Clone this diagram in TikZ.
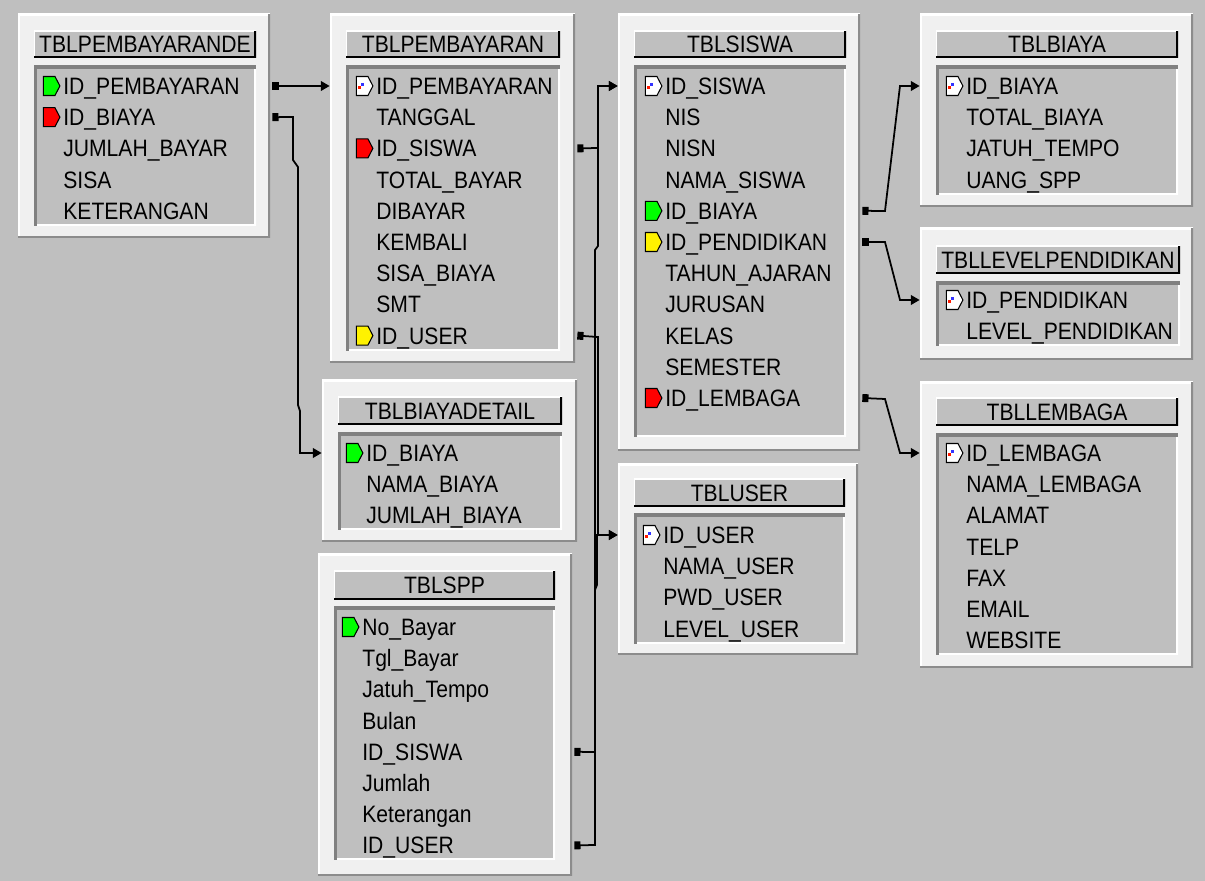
\documentclass[tikz,border=0pt]{standalone}
\usepackage{fontspec}
\setmainfont{Liberation Sans}[FakeStretch=0.89]
\usetikzlibrary{positioning,fit,shapes.symbols,arrows.meta}

\begin{document}
\begin{tikzpicture}[x=0.02cm, y=-0.02cm,
	bingkai/.style={inner sep=0pt, fill=black!6, path picture={
		\draw[white, line width=2pt] (path picture bounding box.south west) -- (path picture bounding box.north west) -- (path picture bounding box.north east);
		\draw[black!45, line width=2.6pt] (path picture bounding box.north east) -- (path picture bounding box.south east) -- (path picture bounding box.south west);}},
	judul/.style={inner sep=0pt, fill=black!25, path picture={
		\draw[white, line width=1.6pt] (path picture bounding box.south west) -- (path picture bounding box.north west) -- (path picture bounding box.north east);
		\draw[black, line width=2.2pt] (path picture bounding box.north east) -- (path picture bounding box.south east) -- (path picture bounding box.south west);}},
	isi/.style={inner sep=0pt, fill=black!25, path picture={
		\draw[white, line width=2pt] (path picture bounding box.north east) -- (path picture bounding box.south east) -- (path picture bounding box.south west);
		\draw[black!50, line width=3pt] (path picture bounding box.south west) -- (path picture bounding box.north west) -- (path picture bounding box.north east);}},
	kolom/.style={anchor=west, inner sep=0pt, text height=9.6pt, text depth=0pt, font=\fontsize{13.5}{16}\selectfont},
	namatabel/.style={kolom, anchor=center},
	kunci/.style={signal, signal to=east, signal pointer angle=125, draw=black, line width=0.6pt, fill=#1, minimum width=0.33cm, minimum height=0.38cm, inner sep=0pt},
	pk/.style={kunci=white, path picture={
		\fill[red!80!orange] ([xshift=0.9pt]path picture bounding box.west) rectangle ++(1.8pt,-1.8pt);
		\fill[blue!80] ([xshift=2.7pt]path picture bounding box.west) rectangle ++(1.6pt,1.6pt);}},
	hub/.style={line width=1pt, {Square[length=3.5pt,width=4.5pt]}-{Triangle[length=5pt,width=5.5pt]}},
	]

	\fill[black!25] (0,0) rectangle (1205,881);
	\useasboundingbox (0,0) rectangle (1205,881);

	%TBLPEMBAYARANDE
	\node[bingkai, fit={(18,14) (270,238)}]	(pbd)	{};
	\node[judul, fit={(34,31) (256,58)}]	(pbd-t)	{};
	\node[namatabel]	(pbd-n)	at (pbd-t)	{TBLPEMBAYARANDE};
	\node[isi, fit={(34,66) (256,226)}]		(pbd-i)	{};
	\foreach \t [count=\i] in {ID\_PEMBAYARAN, ID\_BIAYA, JUMLAH\_BAYAR, SISA, KETERANGAN}
		\node[kolom] (pbd\i) at (63,{86+31.2*(\i-1)}) {\t};
	\node[kunci=green, left=0.05cm of pbd1]	(pbd1k)	{};
	\node[kunci=red, left=0.05cm of pbd2]	(pbd2k)	{};

	%TBLPEMBAYARAN
	\node[bingkai, fit={(330,14) (575,363)}]	(pb)	{};
	\node[judul, fit={(346,31) (560,58)}]		(pb-t)	{};
	\node[namatabel]	(pb-n)	at (pb-t)	{TBLPEMBAYARAN};
	\node[isi, fit={(346,66) (560,351)}]		(pb-i)	{};
	\foreach \t [count=\i] in {ID\_PEMBAYARAN, TANGGAL, ID\_SISWA, TOTAL\_BAYAR, DIBAYAR, KEMBALI, SISA\_BIAYA, SMT, ID\_USER}
		\node[kolom] (pb\i) at (376,{86+31.2*(\i-1)}) {\t};
	\node[pk, left=0.05cm of pb1]			(pb1k)	{};
	\node[kunci=red, left=0.05cm of pb3]	(pb3k)	{};
	\node[kunci=yellow, left=0.05cm of pb9]	(pb9k)	{};

	%TBLSISWA
	\node[bingkai, fit={(618,14) (860,451)}]	(siswa)		{};
	\node[judul, fit={(634,31) (846,58)}]		(siswa-t)	{};
	\node[namatabel]	(siswa-n)	at (siswa-t)	{TBLSISWA};
	\node[isi, fit={(634,66) (846,437)}]		(siswa-i)	{};
	\foreach \t [count=\i] in {ID\_SISWA, NIS, NISN, NAMA\_SISWA, ID\_BIAYA, ID\_PENDIDIKAN, TAHUN\_AJARAN, JURUSAN, KELAS, SEMESTER, ID\_LEMBAGA}
		\node[kolom] (siswa\i) at (665,{86+31.2*(\i-1)}) {\t};
	\node[pk, left=0.05cm of siswa1]			(siswa1k)	{};
	\node[kunci=green, left=0.05cm of siswa5]	(siswa5k)	{};
	\node[kunci=yellow, left=0.05cm of siswa6]	(siswa6k)	{};
	\node[kunci=red, left=0.05cm of siswa11]	(siswa11k)	{};

	%TBLBIAYA
	\node[bingkai, fit={(920,14) (1193,207)}]	(biaya)		{};
	\node[judul, fit={(936,31) (1178,58)}]		(biaya-t)	{};
	\node[namatabel]	(biaya-n)	at (biaya-t)	{TBLBIAYA};
	\node[isi, fit={(936,66) (1178,195)}]		(biaya-i)	{};
	\foreach \t [count=\i] in {ID\_BIAYA, TOTAL\_BIAYA, JATUH\_TEMPO, UANG\_SPP}
		\node[kolom] (biaya\i) at (966,{86+31.2*(\i-1)}) {\t};
	\node[pk, left=0.05cm of biaya1]	(biaya1k)	{};

	%TBLLEVELPENDIDIKAN
	\node[bingkai, fit={(920,228) (1193,360)}]	(level)		{};
	\node[judul, fit={(936,246) (1180,274)}]	(level-t)	{};
	\node[namatabel]	(level-n)	at (level-t)	{TBLLEVELPENDIDIKAN};
	\node[isi, fit={(936,282) (1180,346)}]		(level-i)	{};
	\foreach \t [count=\i] in {ID\_PENDIDIKAN, LEVEL\_PENDIDIKAN}
		\node[kolom] (level\i) at (966,{300+31.2*(\i-1)}) {\t};
	\node[pk, left=0.05cm of level1]	(level1k)	{};

	%TBLLEMBAGA
	\node[bingkai, fit={(920,382) (1193,668)}]	(lembaga)	{};
	\node[judul, fit={(936,398) (1178,426)}]	(lembaga-t)	{};
	\node[namatabel]	(lembaga-n)	at (lembaga-t)	{TBLLEMBAGA};
	\node[isi, fit={(936,434) (1178,655)}]		(lembaga-i)	{};
	\foreach \t [count=\i] in {ID\_LEMBAGA, NAMA\_LEMBAGA, ALAMAT, TELP, FAX, EMAIL, WEBSITE}
		\node[kolom] (lembaga\i) at (966,{453+31.2*(\i-1)}) {\t};
	\node[pk, left=0.05cm of lembaga1]	(lembaga1k)	{};

	%TBLBIAYADETAIL
	\node[bingkai, fit={(322,380) (577,542)}]	(bd)	{};
	\node[judul, fit={(338,397) (562,425)}]		(bd-t)	{};
	\node[namatabel]	(bd-n)	at (bd-t)	{TBLBIAYADETAIL};
	\node[isi, fit={(338,433) (562,530)}]		(bd-i)	{};
	\foreach \t [count=\i] in {ID\_BIAYA, NAMA\_BIAYA, JUMLAH\_BIAYA}
		\node[kolom] (bd\i) at (366,{453+31.2*(\i-1)}) {\t};
	\node[kunci=green, left=0.05cm of bd1]	(bd1k)	{};

	%TBLSPP
	\node[bingkai, fit={(318,554) (572,876)}]	(spp)	{};
	\node[judul, fit={(334,571) (555,600)}]		(spp-t)	{};
	\node[namatabel]	(spp-n)	at (spp-t)	{TBLSPP};
	\node[isi, fit={(334,607) (555,860)}]		(spp-i)	{};
	\foreach \t [count=\i] in {No\_Bayar, Tgl\_Bayar, Jatuh\_Tempo, Bulan, ID\_SISWA, Jumlah, Keterangan, ID\_USER}
		\node[kolom] (spp\i) at (362,{627+31.2*(\i-1)}) {\t};
	\node[kunci=green, left=0.05cm of spp1]	(spp1k)	{};

	%TBLUSER
	\node[bingkai, fit={(618,464) (858,655)}]	(user)		{};
	\node[judul, fit={(634,479) (845,507)}]		(user-t)	{};
	\node[namatabel]	(user-n)	at (user-t)	{TBLUSER};
	\node[isi, fit={(634,514) (845,644)}]		(user-i)	{};
	\foreach \t [count=\i] in {ID\_USER, NAMA\_USER, PWD\_USER, LEVEL\_USER}
		\node[kolom] (user\i) at (663,{535+31.2*(\i-1)}) {\t};
	\node[pk, left=0.05cm of user1]	(user1k)	{};

	%Lines
	\draw[hub] ([xshift=0.04cm]pbd.east |- pbd1) -- (pb.west |- pb1);
	\draw[hub] ([xshift=0.04cm]pbd.east |- pbd2) -- (293,117) -- (293,160) -- (298,167) -- (298,405) -- (300,411) |- (bd.west |- bd1);
	\draw[hub] ([xshift=0.04cm]pb.east |- pb3) -- (598,148) |- (siswa.west |- siswa1);
	\draw[hub] ([xshift=0.04cm]pb.east |- pb9) -- (598,337) |- (user.west |- user1);
	\draw[hub] ([xshift=0.04cm]spp.east |- spp5) -- (595,752) -- (595,250) -- (598,246) |- (siswa.west |- siswa1);
	\draw[hub] ([xshift=0.04cm]spp.east |- spp8) -- (595,845) -- (595,590) -- (597,585) |- (user.west |- user1);
	\draw[hub] ([xshift=0.04cm]siswa.east |- siswa5) -- (885,211) -- (900,86) -- (biaya.west |- biaya1);
	\draw[hub] ([xshift=0.04cm]siswa.east |- siswa6) -- (885,242) -- (900,300) -- (level.west |- level1);
	\draw[hub] ([xshift=0.04cm]siswa.east |- siswa11) -- (885,399) -- (900,453) -- (lembaga.west |- lembaga1);

\end{tikzpicture}
\end{document}
